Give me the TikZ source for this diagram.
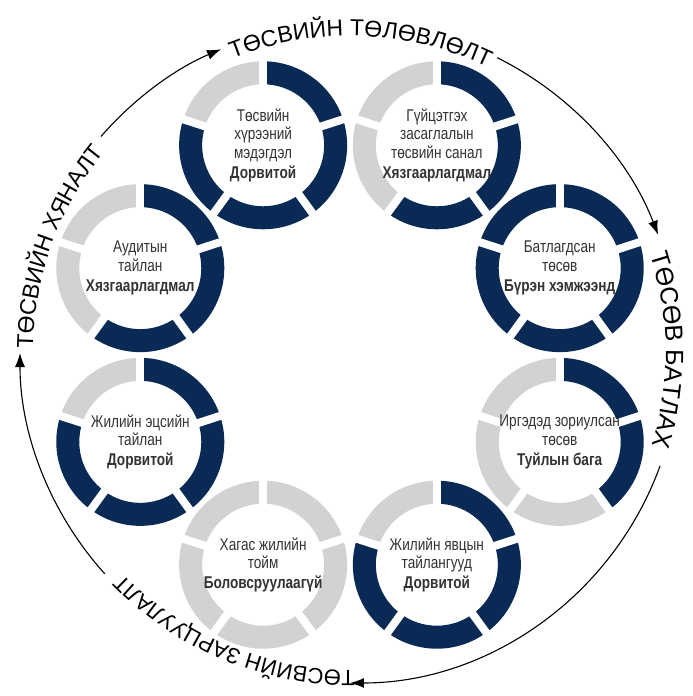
\documentclass[tikz,border=0pt]{standalone}
\usepackage{fontspec}
\setmainfont{Liberation Sans}
\newfontfamily\narrowfont{Liberation Sans}[FakeStretch=0.8]
\usepackage{xcolor}
\usetikzlibrary{arrows.meta,decorations.text}

\definecolor{navy}{RGB}{8,42,84}
\definecolor{lightgrey}{RGB}{208,210,212}
\definecolor{textgrey}{RGB}{51,51,51}

\tikzset{
  stage/.style={align=center, text=textgrey, inner sep=0pt,
    font=\narrowfont\fontsize{17}{18.5}\selectfont},
  cycle arrow/.style={line width=1.1pt, -{Latex[length=14pt,width=10pt]}},
  phase/.style={decorate, decoration={text along path, text align=center}},
}

\begin{document}
\begin{tikzpicture}[x=1pt, y=1pt]
    \fill[white] (-350,-341) rectangle (343,355);
    \useasboundingbox (-350,-341) rectangle (343,355);
    \coordinate (O) at (0,2);

    \foreach \ang/\dark in {112.5/4, 67.5/3, 22.5/5, -22.5/2, -67.5/4, -112.5/0, -157.5/4, 157.5/3} {
      \begin{scope}[shift={(\ang:227)}]
        \foreach \k in {1,...,5} {
          \pgfmathsetmacro\a{90-72*(\k-1)}
          \pgfmathsetmacro\b{90-72*\k}
          \ifnum\k>\dark \def\segcol{lightgrey}\else \def\segcol{navy}\fi
          \fill[\segcol] (\a:84) arc[start angle=\a, end angle=\b, radius=84]
            -- (\b:61) arc[start angle=\b, end angle=\a, radius=61] -- cycle;
        }
        \foreach \g in {90,18,-54,-126,-198}
          \draw[white, line width=8pt] (\g:58) -- (\g:88);
      \end{scope}
    }

    \node[stage] (plan) at (112.5:227) {Төсвийн\\хүрээний\\мэдэгдэл\\[1.5pt]\textbf{Дорвитой}};
    \node[stage] (proposal) at (67.5:227) {Гүйцэтгэх\\засаглалын\\төсвийн санал\\[1.5pt]\textbf{Хязгаарлагдмал}};
    \node[stage] (enacted) at (22.5:227) {Батлагдсан\\төсөв\\[1.5pt]\textbf{Бүрэн хэмжээнд}};
    \node[stage] (citizens) at (-22.5:227) {Иргэдэд зориулсан\\төсөв\\[1.5pt]\textbf{Туйлын бага}};
    \node[stage] (inyear) at (-67.5:227) {Жилийн явцын\\тайлангууд\\[1.5pt]\textbf{Дорвитой}};
    \node[stage] (midyear) at (-112.5:227) {Хагас жилийн\\тойм\\[1.5pt]\textbf{Боловсруулаагүй}};
    \node[stage] (yearend) at (-157.5:227) {Жилийн эцсийн\\тайлан\\[1.5pt]\textbf{Дорвитой}};
    \node[stage] (audit) at (157.5:227) {Аудитын\\тайлан\\[1.5pt]\textbf{Хязгаарлагдмал}};

    \path[phase, decoration={text={|\fontsize{23}{23}\selectfont|ТӨСВИЙН ТӨЛӨВЛӨЛТ}}]
      (O) ++(120:317) arc[start angle=120, end angle=56, radius=317];
    \path[phase, decoration={text={|\fontsize{25}{25}\selectfont|ТӨСӨВ БАТЛАХ}}]
      (O) ++(33:316) arc[start angle=33, end angle=-32, radius=316];
    \path[phase, decoration={text={|\fontsize{22}{22}\selectfont|ТӨСВИЙН ЗАРЦУУЛАЛТ}}]
      (O) ++(-80:317) arc[start angle=-80, end angle=-145, radius=317];
    \path[phase, decoration={text={|\fontsize{23}{23}\selectfont|ТӨСВИЙН ХЯНАЛТ}}]
      (O) ++(192:317) arc[start angle=192, end angle=128, radius=317];

    \draw[cycle arrow] (O) ++(139:330) arc[start angle=139, end angle=113, radius=330];
    \draw[cycle arrow] (O) ++(63.5:330) arc[start angle=63.5, end angle=21, radius=330];
    \draw[cycle arrow] (O) ++(-20:330) arc[start angle=-20, end angle=-90, radius=330];
    \draw[cycle arrow] (O) ++(-138:330) arc[start angle=-138, end angle=-180, radius=330];
\end{tikzpicture}
\end{document}
